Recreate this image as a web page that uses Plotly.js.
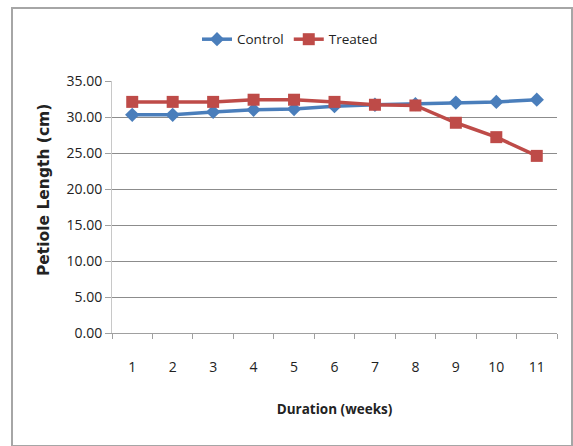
<!DOCTYPE html>
<html>
<head>
<meta charset="utf-8">
<script src="https://cdn.plot.ly/plotly-3.0.1.min.js"></script>
<style>
html,body{margin:0;padding:0;background:#fff;}
#wrap{position:relative;width:573px;height:446px;}
#chart{width:573px;height:446px;}
#frame{position:absolute;left:11px;top:7px;width:558px;height:436px;border:2px solid #a6a6a6;pointer-events:none;box-sizing:content-box;}
</style>
</head>
<body>
<div id="wrap">
<div id="chart"></div>
<div id="frame"></div>
</div>
<script>
const weeks = ["1","2","3","4","5","6","7","8","9","10","11"];
const control = [30.3, 30.3, 30.7, 31.0, 31.1, 31.5, 31.7, 31.8, 32.0, 32.1, 32.4];
const treated = [32.1, 32.1, 32.1, 32.4, 32.4, 32.1, 31.7, 31.6, 29.2, 27.2, 24.6];
const yTicks = [0, 5, 10, 15, 20, 25, 30, 35];

const font = "'Open Sans', Arial, sans-serif";

const traces = [
  {x: weeks, y: control, name: "Control", type: "scatter", mode: "lines+markers",
   line: {color: "#4A7EBB", width: 3.5}, marker: {symbol: "diamond", size: 11, color: "#4A7EBB"}},
  {x: weeks, y: treated, name: "Treated", type: "scatter", mode: "lines+markers",
   line: {color: "#BE4B48", width: 3.5}, marker: {symbol: "square", size: 12, color: "#BE4B48"}}
];

const layout = {
  width: 573, height: 446,
  margin: {l: 112, r: 16, t: 81, b: 113},
  paper_bgcolor: "#fff", plot_bgcolor: "#fff",
  font: {family: font, size: 13, color: "#222"},
  showlegend: true,
  legend: {orientation: "h", x: 0.4, xanchor: "center", y: 1.165, yanchor: "middle",
           font: {family: font, size: 13.5, color: "#222"}, itemwidth: 30, tracegroupgap: 0},
  xaxis: {
    type: "category", range: [-0.5, 10.5], autorange: false,
    showgrid: false, showline: true, linecolor: "#a0a0a0", linewidth: 1,
    ticks: "outside", tickson: "boundaries", ticklen: 5, tickcolor: "#a0a0a0",
    ticklabelstandoff: 21, tickfont: {family: font, size: 14, color: "#222"},
    zeroline: false,
    title: {text: "Duration (weeks)", font: {family: font, size: 13.5, color: "#222", weight: "bold"}, standoff: 29}
  },
  yaxis: {
    range: [0, 35], tickvals: yTicks, tickformat: ".2f",
    showgrid: true, gridcolor: "#8c8c8c", gridwidth: 1,
    showline: true, linecolor: "#c8c8c8", linewidth: 1,
    ticks: "outside", ticklen: 6, tickcolor: "#a0a0a0",
    tickfont: {family: font, size: 14, color: "#222"},
    zeroline: false
  },
  annotations: [{
    text: "Petiole Length (cm)", textangle: -90, showarrow: false,
    xref: "paper", yref: "paper",
    x: (44 - 112) / 445, y: (333 - 190) / 252, xanchor: "center", yanchor: "middle",
    font: {family: "'DejaVu Sans', sans-serif", size: 15.5, color: "#222", weight: "bold"}
  }]
};

Plotly.newPlot("chart", traces, layout, {displayModeBar: false, staticPlot: true});
</script>
</body>
</html>
